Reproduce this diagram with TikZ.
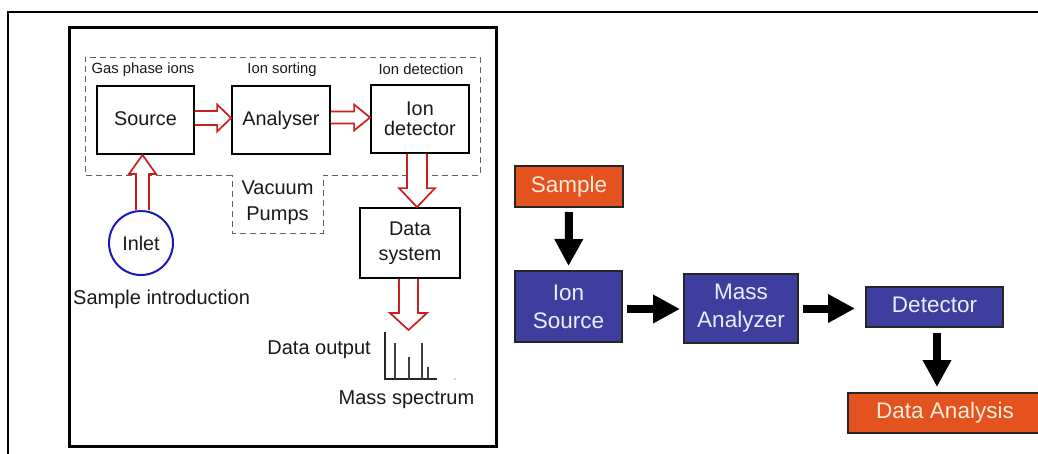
\documentclass[tikz,border=0pt]{standalone}
\usepackage{fontspec}
\setmainfont{Liberation Sans}
\usetikzlibrary{arrows.meta,calc}
\definecolor{hred}{RGB}{205,30,30}
\definecolor{txt}{RGB}{25,25,25}
\definecolor{dgray}{RGB}{95,95,95}
\definecolor{inletblue}{RGB}{25,25,185}
\definecolor{orng}{RGB}{228,82,32}
\definecolor{bblue}{RGB}{62,62,158}
\definecolor{peach}{RGB}{255,236,215}
\newcommand\hollowH[5]{%
  \draw[hollow] let \p1=#1, \p2=#2 in
   (\x1,{\y1+#3}) -- ({\x2-#5},{\y1+#3}) -- ({\x2-#5},{\y1+#4}) -- (\x2,\y1)
   -- ({\x2-#5},{\y1-#4}) -- ({\x2-#5},{\y1-#3}) -- (\x1,{\y1-#3});}
\newcommand\hollowDown[5]{%
  \draw[hollow] let \p1=#1, \p2=#2 in
   ({\x1-#3},\y1) -- ({\x1-#3},{\y2+#5}) -- ({\x1-#4},{\y2+#5}) -- (\x1,\y2)
   -- ({\x1+#4},{\y2+#5}) -- ({\x1+#3},{\y2+#5}) -- ({\x1+#3},\y1);}
\newcommand\hollowUp[5]{%
  \draw[hollow] let \p1=#1, \p2=#2 in
   ({\x1-#3},\y1) -- ({\x1-#3},{\y2-#5}) -- ({\x1-#4},{\y2-#5}) -- (\x1,\y2)
   -- ({\x1+#4},{\y2-#5}) -- ({\x1+#3},{\y2-#5}) -- ({\x1+#3},\y1);}
\begin{document}
\begin{tikzpicture}[x=1pt,y=-1pt,
  box/.style={draw=black,line width=1.8pt,inner sep=0pt,align=center,text=txt,
    font=\fontsize{19.8}{20.5}\selectfont},
  one/.style={text height=14pt,text depth=4pt},
  small/.style={inner sep=0pt,text=txt,font=\fontsize{14.8}{16}\selectfont},
  lbl/.style={inner sep=0pt,text=txt,align=center,font=\fontsize{20}{20}\selectfont},
  hollow/.style={draw=hred,line width=1.7pt,fill=white,line join=miter},
  obox/.style={draw=black!85,line width=2pt,fill=orng,text=peach,inner sep=0pt,
    font=\fontsize{22.5}{24}\selectfont,text height=16pt,text depth=5pt},
  bbox/.style={draw=black!85,line width=2pt,fill=bblue,text=white!93!blue,inner sep=0pt,
    align=center,font=\fontsize{22.5}{28}\selectfont},
  blk/.style={draw=black,line width=8pt,-{Triangle[length=27pt,width=27pt]}}
]
\useasboundingbox (0,0) rectangle (1038,453);
% outer frame (partly cut off)
\draw[line width=2pt] (8,460) -- (8,12) -- (1045,12);
% inner thick frame
\draw[line width=3pt] (69,27) rectangle (496,446);
% dashed vacuum enclosure
\draw[dgray,line width=1pt,dash pattern=on 6pt off 4pt]
  (232,175) -- (85,175) -- (85,57) -- (480,57) -- (480,175) -- (323,175)
  -- (323,233) -- (232,233) -- cycle;
\fill[white] (233,174) rectangle (322,176);
% stage labels
\node[small] (lgas) at (143,70) {Gas phase ions};
\node[small] (lsort) at (282,70) {Ion sorting};
\node[small] (ldet) at (421,69) {Ion detection};
% boxes
\node[box,one,minimum width=97pt,minimum height=68pt] (Source) at (145.5,120) {Source};
\node[box,one,minimum width=98pt,minimum height=68pt] (Analyser) at (281,120) {Analyser};
\node[box,minimum width=98pt,minimum height=68pt] (IonDet) at (420,119) {Ion\\detector};
\node[box,minimum width=100pt,minimum height=70pt,font=\fontsize{19.8}{25}\selectfont] (DataSys) at (410,243) {Data\\system};
\node[lbl,font=\fontsize{20}{26}\selectfont] (Vac) at (277.5,203) {Vacuum\\Pumps};
\node[draw=inletblue,line width=2pt,circle,minimum size=64pt,inner sep=0pt,text=txt,
  font=\fontsize{19.8}{20}\selectfont] (Inlet) at (141,243) {Inlet};
\node[lbl,anchor=west] (SampIntro) at (73,299) {Sample introduction};
\node[lbl,anchor=east] (DataOut) at (371,350) {Data output};
\node[lbl] (MassSpec) at (406.5,400) {Mass spectrum};
% spectrum
\coordinate (spec) at (409,330);
\draw[black!85,line width=1.6pt] (385,332) -- (385,379) -- (437,379);
\draw[black!75,line width=1.3pt] (395,379) -- (395,343) (409,379) -- (409,357)
  (422,379) -- (422,343) (428,379) -- (428,367);
\fill[black!35] (455,379) circle (0.8pt);
% hollow red arrows
\hollowH{($(Source.east)+(0,-2)$)}{(Analyser.west)}{7pt}{13.5pt}{14pt}
\hollowH{($(Analyser.east)+(0,-2.5)$)}{(IonDet.west)}{6pt}{13pt}{16pt}
\hollowUp{($(Inlet.north)+(1.5,0)$)}{(Source.south)}{6.5pt}{13.5pt}{19pt}
\hollowDown{($(IonDet.south)+(-3,0)$)}{(DataSys.north)}{10pt}{18pt}{19pt}
\hollowDown{($(DataSys.south)+(-1.5,0)$)}{(spec)}{9.5pt}{18.5pt}{17pt}
% right-hand flow chart
\node[obox,minimum width=108pt,minimum height=41pt] (Sample) at (569,186.5) {Sample};
\node[bbox,minimum width=107pt,minimum height=71pt] (IonSrc) at (568.5,306.5) {Ion\\Source};
\node[bbox,minimum width=114pt,minimum height=69pt] (MassAn) at (741,308.5) {Mass\\Analyzer};
\node[bbox,minimum width=137pt,minimum height=40pt,text height=16pt,text depth=5pt] (Detector) at (934.5,307) {Detector};
\node[obox,minimum width=194pt,minimum height=40pt] (DataAn) at (945,413) {Data Analysis};
\draw[blk,shorten <=4pt,shorten >=4pt] (Sample.south) -- (IonSrc.north);
\coordinate (a1) at ([yshift=-2.5pt]IonSrc.east);
\draw[blk,shorten <=4pt,shorten >=3pt] (a1) -- (a1 -| MassAn.west);
\draw[blk,shorten <=4pt,shorten >=10pt] (MassAn.east) -- (MassAn.east -| Detector.west);
\coordinate (a2) at ([xshift=2.5pt]Detector.south);
\draw[blk,shorten <=5pt,shorten >=5pt] (a2) -- (a2 |- DataAn.north);
\end{tikzpicture}
\end{document}
